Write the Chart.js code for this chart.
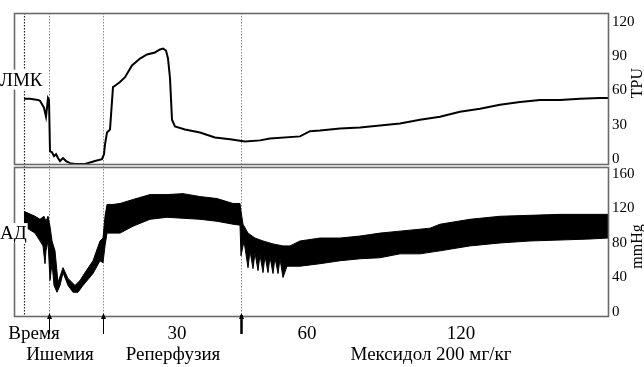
<!DOCTYPE html>
<html>
<head>
<meta charset="utf-8">
<script src="https://cdn.jsdelivr.net/npm/chart.js@4.4.1/dist/chart.umd.min.js"></script>
<style>
  html, body { margin: 0; padding: 0; background: #fff; }
</style>
</head>
<body>
<canvas id="trace" width="644" height="367"></canvas>
<script>
// position along the record (0 = left edge of the plot)
var flowPos = [10, 16, 24, 26, 30, 32, 33, 34, 35, 36, 38, 40, 42, 44, 46, 49, 52, 56, 61, 71, 81, 88, 90, 91, 93, 96,
  99, 102, 106, 111, 118, 126, 133, 141, 146, 149, 152, 154, 156, 158, 161, 171, 186, 201, 216, 231, 246, 256,
  286, 296, 306, 326, 346, 366, 386, 406, 426, 446, 466, 486, 506, 526, 546, 566, 586, 594];
// ЛМК, TPU
var flowVal = [52.7, 52.7, 51.8, 51.0, 45.0, 37.1, 45.0, 53.5, 52.0, 6.9, 6.0, 2.6, 4.3, 1.0, -1.7, 0.9, -1.7, -3.5,
  -4.3, -4.3, -1.7, 0.0, 4.3, 13.0, 23.3, 25.9, 63.0, 64.8, 67.4, 71.7, 82.0, 88.0, 91.5, 93.3, 95.9, 96.7, 95.0,
  88.0, 70.8, 34.5, 28.5, 25.9, 23.3, 19.0, 17.3, 15.5, 16.4, 18.1, 19.9, 24.4, 25.0, 26.8, 27.6, 29.4, 31.1, 34.5,
  37.1, 41.5, 44.0, 47.5, 50.0, 51.8, 51.8, 52.7, 53.5, 53.5];

// АД, mmHg: upper and lower edge of the pulse band
var bpUpPos = [10, 21, 26, 30, 32, 34, 36, 38, 41, 44, 49, 54, 61, 66, 71, 79, 86, 89, 91, 93, 99, 106, 119, 136, 153,
  169, 186, 203, 219, 226, 227, 229, 234, 241, 249, 259, 269, 276, 286, 306, 326, 346, 366, 386, 416, 426, 456, 486,
  516, 546, 576, 594];
var bpUpVal = [116.6, 110.9, 107.4, 110.9, 105.1, 110.9, 99.4, 82.3, 70.9, 34.3, 51.4, 38.9, 30.9, 36.6, 45.7, 59.4,
  82.3, 85.7, 110.9, 124.6, 124.6, 125.7, 130.3, 136.0, 136.0, 137.1, 133.7, 131.4, 125.7, 125.7, 116.6, 101.7, 91.4,
  85.7, 82.3, 78.9, 76.6, 76.6, 82.3, 85.7, 85.7, 88.0, 91.4, 93.7, 97.1, 101.7, 107.4, 110.9, 112.0, 113.1, 113.1, 113.1];
var bpLowPos = [10, 21, 26, 29, 31, 32, 34, 36, 38, 40, 43, 46, 49, 54, 59, 64, 69, 79, 86, 89, 91, 93, 99, 106, 119,
  136, 153, 169, 186, 203, 219, 226, 227, 230, 234, 236, 239, 241, 244, 246, 249, 251, 254, 256, 259, 261, 264, 266,
  269, 273, 286, 306, 326, 346, 366, 386, 406, 426, 456, 486, 516, 546, 576, 594];
var bpLowVal = [99.4, 91.4, 82.3, 76.6, 56.0, 70.9, 82.3, 36.6, 57.1, 30.9, 22.9, 30.9, 45.7, 30.9, 22.9, 22.9, 30.9,
  44.6, 59.4, 57.1, 76.6, 91.4, 91.4, 91.4, 99.4, 107.4, 109.7, 108.6, 107.4, 105.1, 101.7, 100.6, 65.1, 82.3, 51.4,
  70.9, 50.3, 68.6, 48.0, 66.3, 45.7, 65.1, 45.7, 64.0, 44.6, 62.9, 44.6, 61.7, 40.0, 53.1, 53.1, 56.0, 59.4, 61.7,
  62.9, 67.4, 67.4, 70.9, 76.6, 80.0, 82.3, 83.4, 84.6, 85.7];

var eventPos = [10, 35, 89, 227];          // start, ischaemia, reperfusion, Mexidol
var timeTicks = [20, 163, 293, 447];
var timeLabels = ['Время', '30', '60', '120'];
var phaseTicks = [46, 159, 417];
var phaseLabels = ['Ишемия', 'Реперфузия', 'Мексидол 200 мг/кг'];
var flowTicks = [0, 30, 60, 90, 120];
var bpTicks = [0, 40, 80, 120, 160];

var serif = 'Liberation Serif, Times New Roman, serif';

function pts(xs, ys) {
  return xs.map(function (x, i) { return {x: x, y: ys[i]}; });
}

// frames, event markers, arrows, side labels
var decor = {
  id: 'decor',
  beforeDatasetsDraw: function (chart) {
    var ctx = chart.ctx, x = chart.scales.x, ca = chart.chartArea;
    ctx.save();
    eventPos.forEach(function (p, i) {
      var px = Math.round(x.getPixelForValue(p)) + 0.5;
      ctx.strokeStyle = i === 0 ? '#222' : '#8a8a8a';
      ctx.lineWidth = i === 0 ? 1.2 : 1;
      ctx.setLineDash([1.5, 1.5]);
      ctx.beginPath();
      ctx.moveTo(px, ca.top);
      ctx.lineTo(px, ca.bottom);
      ctx.stroke();
    });
    ctx.restore();
  },
  afterDraw: function (chart) {
    var ctx = chart.ctx, x = chart.scales.x, ca = chart.chartArea;
    var yF = chart.scales.yF, yA = chart.scales.yA;
    ctx.save();
    ctx.strokeStyle = '#6a6a6a';
    ctx.lineWidth = 1.6;
    ctx.strokeRect(ca.left + 0.5, yF.top + 0.5, ca.right - ca.left, yF.bottom - yF.top - 2);
    ctx.strokeRect(ca.left + 0.5, yA.top + 1.5, ca.right - ca.left, yA.bottom - yA.top - 2);

    // arrows under the record
    ctx.strokeStyle = '#000';
    ctx.fillStyle = '#000';
    eventPos.slice(1).forEach(function (p, i) {
      var px = Math.round(x.getPixelForValue(p)) + 0.5;
      ctx.lineWidth = i === 2 ? 2.5 : 1;
      ctx.beginPath();
      ctx.moveTo(px, ca.bottom - 2);
      ctx.lineTo(px, ca.bottom + 17);
      ctx.stroke();
      ctx.beginPath();
      ctx.moveTo(px, ca.bottom - 4);
      ctx.lineTo(px - 2.5, ca.bottom + 2);
      ctx.lineTo(px + 2.5, ca.bottom + 2);
      ctx.closePath();
      ctx.fill();
    });

    // channel names on the left
    ctx.font = '19px ' + serif;
    ctx.textBaseline = 'middle';
    ctx.textAlign = 'left';
    [['ЛМК', yF.getPixelForValue(69.5)], ['АД', yA.getPixelForValue(91.4)]].forEach(function (l) {
      var w = ctx.measureText(l[0]).width;
      ctx.fillStyle = '#fff';
      ctx.fillRect(0, l[1] - 10, w + 1, 20);
      ctx.fillStyle = '#000';
      ctx.fillText(l[0], 0, l[1] + 1);
    });

    // units on the right
    ctx.font = '16px ' + serif;
    ctx.textAlign = 'center';
    [['TPU', yF.getPixelForValue(66.5)], ['mmHg', yA.getPixelForValue(76)]].forEach(function (l) {
      ctx.save();
      ctx.translate(638, l[1]);
      ctx.rotate(-Math.PI / 2);
      ctx.fillText(l[0], 0, 0);
      ctx.restore();
    });
    ctx.restore();
  }
};

function yAxis(min, max, ticks, weight) {
  return {
    position: 'right', stack: 'rec', stackWeight: weight, min: min, max: max,
    grid: {display: false, drawTicks: false}, border: {display: false},
    afterBuildTicks: function (s) { s.ticks = ticks.map(function (v) { return {value: v}; }); },
    afterFit: function (s) { s.width = 36; },
    ticks: {padding: 4, color: '#000', font: {family: serif, size: 15}}
  };
}

function xAxis(ticks, labels, h, pad) {
  return {
    type: 'linear', position: 'bottom', min: 0, max: 594,
    grid: {display: false, drawTicks: false}, border: {display: false},
    afterBuildTicks: function (s) { s.ticks = ticks.map(function (v) { return {value: v}; }); },
    afterFit: function (s) { s.height = h; },
    ticks: {
      autoSkip: false, maxRotation: 0, padding: pad, color: '#000', font: {family: serif, size: 19},
      callback: function (v, i) { return labels[i]; }
    }
  };
}

new Chart(document.getElementById('trace'), {
  type: 'line',
  data: {
    datasets: [
      {data: pts(flowPos, flowVal), xAxisID: 'x', yAxisID: 'yF', borderColor: '#000', borderWidth: 2,
        pointRadius: 0, fill: false, tension: 0},
      {data: pts(bpUpPos, bpUpVal), xAxisID: 'x', yAxisID: 'yA', borderColor: '#000', borderWidth: 1,
        pointRadius: 0, fill: false, tension: 0},
      {data: pts(bpLowPos, bpLowVal), xAxisID: 'x', yAxisID: 'yA', borderColor: '#000', borderWidth: 1,
        backgroundColor: '#000', pointRadius: 0, fill: '-1', tension: 0}
    ]
  },
  options: {
    responsive: false,
    animation: false,
    layout: {padding: {top: 7, left: 14, right: 0, bottom: 0}},
    plugins: {legend: {display: false}, tooltip: {enabled: false}},
    scales: {
      x: xAxis(timeTicks, timeLabels, 27, 6),
      x2: xAxis(phaseTicks, phaseLabels, 23, 0),
      yF: yAxis(-6, 127.8, flowTicks, 155),
      yA: yAxis(-5.7, 169.1, bpTicks, 153)
    }
  },
  plugins: [decor]
});
</script>
</body>
</html>
